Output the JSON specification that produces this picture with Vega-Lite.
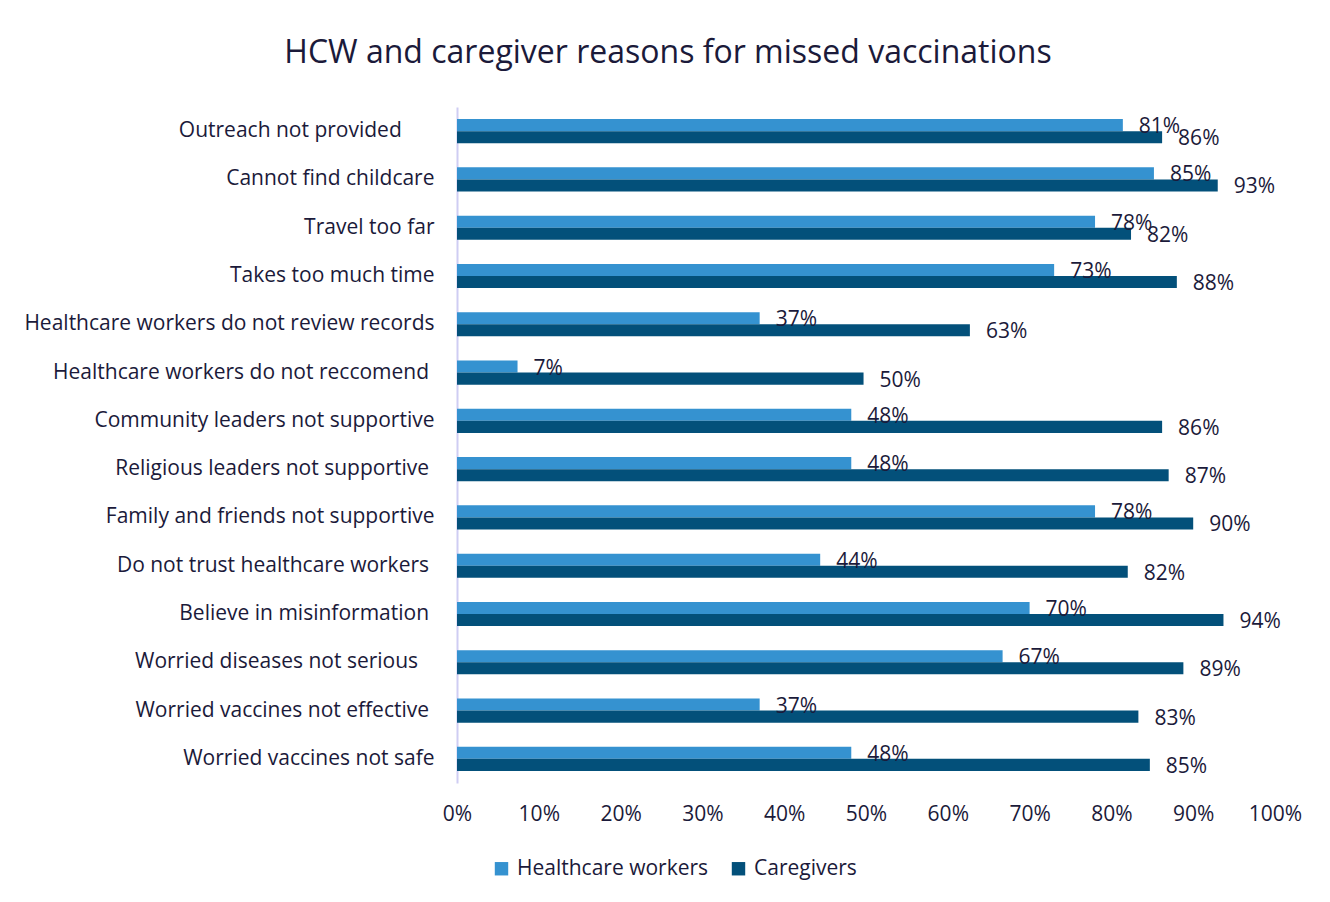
{
  "$schema": "https://vega.github.io/schema/vega-lite/v6.json",
  "width": 818,
  "height": 676,
  "autosize": {"type": "none"},
  "padding": {"left": 457, "top": 107, "right": 55, "bottom": 119},
  "background": "white",
  "title": {
    "text": "HCW and caregiver reasons for missed vaccinations",
    "fontSize": 32,
    "fontWeight": "normal",
    "font": "Open Sans",
    "color": "#1B1A3A",
    "anchor": "middle",
    "dx": -198,
    "offset": 37
  },
  "config": {
    "view": {"stroke": null},
    "font": "Open Sans",
    "text": {"font": "Open Sans"}
  },
  "data": {
    "values": [
      {"reason": "Outreach not provided\u00a0\u00a0\u00a0\u00a0\u00a0\u00a0\u200b", "group": "Healthcare workers", "value": 0.814},
      {"reason": "Outreach not provided\u00a0\u00a0\u00a0\u00a0\u00a0\u00a0\u200b", "group": "Caregivers", "value": 0.862},
      {"reason": "Cannot find childcare", "group": "Healthcare workers", "value": 0.852},
      {"reason": "Cannot find childcare", "group": "Caregivers", "value": 0.93},
      {"reason": "Travel too far", "group": "Healthcare workers", "value": 0.78},
      {"reason": "Travel too far", "group": "Caregivers", "value": 0.824},
      {"reason": "Takes too much time", "group": "Healthcare workers", "value": 0.73},
      {"reason": "Takes too much time", "group": "Caregivers", "value": 0.88},
      {"reason": "Healthcare workers do not review records", "group": "Healthcare workers", "value": 0.37},
      {"reason": "Healthcare workers do not review records", "group": "Caregivers", "value": 0.627},
      {"reason": "Healthcare workers do not reccomend\u00a0\u200b", "group": "Healthcare workers", "value": 0.074},
      {"reason": "Healthcare workers do not reccomend\u00a0\u200b", "group": "Caregivers", "value": 0.497},
      {"reason": "Community leaders not supportive", "group": "Healthcare workers", "value": 0.482},
      {"reason": "Community leaders not supportive", "group": "Caregivers", "value": 0.862},
      {"reason": "Religious leaders not supportive\u00a0\u200b", "group": "Healthcare workers", "value": 0.482},
      {"reason": "Religious leaders not supportive\u00a0\u200b", "group": "Caregivers", "value": 0.87},
      {"reason": "Family and friends not supportive", "group": "Healthcare workers", "value": 0.78},
      {"reason": "Family and friends not supportive", "group": "Caregivers", "value": 0.90},
      {"reason": "Do not trust healthcare workers\u00a0\u200b", "group": "Healthcare workers", "value": 0.444},
      {"reason": "Do not trust healthcare workers\u00a0\u200b", "group": "Caregivers", "value": 0.82},
      {"reason": "Believe in misinformation\u00a0\u200b", "group": "Healthcare workers", "value": 0.70},
      {"reason": "Believe in misinformation\u00a0\u200b", "group": "Caregivers", "value": 0.937},
      {"reason": "Worried diseases not serious\u00a0\u00a0\u00a0\u200b", "group": "Healthcare workers", "value": 0.667},
      {"reason": "Worried diseases not serious\u00a0\u00a0\u00a0\u200b", "group": "Caregivers", "value": 0.888},
      {"reason": "Worried vaccines not effective\u00a0\u200b", "group": "Healthcare workers", "value": 0.37},
      {"reason": "Worried vaccines not effective\u00a0\u200b", "group": "Caregivers", "value": 0.833},
      {"reason": "Worried vaccines not safe", "group": "Healthcare workers", "value": 0.482},
      {"reason": "Worried vaccines not safe", "group": "Caregivers", "value": 0.847}
    ]
  },
  "encoding": {
    "y": {
      "field": "reason",
      "type": "nominal",
      "sort": null,
      "scale": {"paddingInner": 0.5, "paddingOuter": 0.25},
      "axis": {
        "title": null,
        "domainColor": "#CFCDF3",
        "domainWidth": 2,
        "ticks": false,
        "labelFontSize": 21,
        "labelFont": "Open Sans",
        "labelColor": "#1B1A3A",
        "labelPadding": 23,
        "labelLimit": 500
      }
    },
    "yOffset": {
      "field": "group",
      "type": "nominal",
      "sort": ["Healthcare workers", "Caregivers"],
      "scale": {"paddingInner": 0, "paddingOuter": 0}
    },
    "x": {
      "field": "value",
      "type": "quantitative",
      "scale": {"domain": [0, 1]},
      "axis": {
        "title": null,
        "format": ".0%",
        "values": [0, 0.1, 0.2, 0.3, 0.4, 0.5, 0.6, 0.7, 0.8, 0.9, 1],
        "grid": false,
        "domain": false,
        "ticks": false,
        "labelFlush": false,
        "labelFontSize": 21,
        "labelFont": "Open Sans",
        "labelColor": "#1B1A3A",
        "labelPadding": 20
      }
    }
  },
  "layer": [
    {
      "mark": {"type": "bar"},
      "encoding": {
        "color": {
          "field": "group",
          "type": "nominal",
          "scale": {"domain": ["Healthcare workers", "Caregivers"], "range": ["#3592D0", "#03507A"]},
          "legend": {
            "title": null,
            "orient": "none",
            "direction": "horizontal",
            "legendX": 34,
            "legendY": 751,
            "symbolType": "square",
            "symbolSize": 180,
            "symbolStrokeWidth": 0,
            "labelFontSize": 21,
            "labelFont": "Open Sans",
            "labelColor": "#1B1A3A",
            "labelOffset": 5,
            "labelLimit": 400,
            "columnPadding": 19
          }
        }
      }
    },
    {
      "mark": {"type": "text", "align": "left", "baseline": "middle", "dx": 16, "dy": 2, "fontSize": 21, "font": "Open Sans", "color": "#1B1A3A"},
      "encoding": {
        "text": {"field": "value", "type": "quantitative", "format": ".0%"}
      }
    }
  ]
}
